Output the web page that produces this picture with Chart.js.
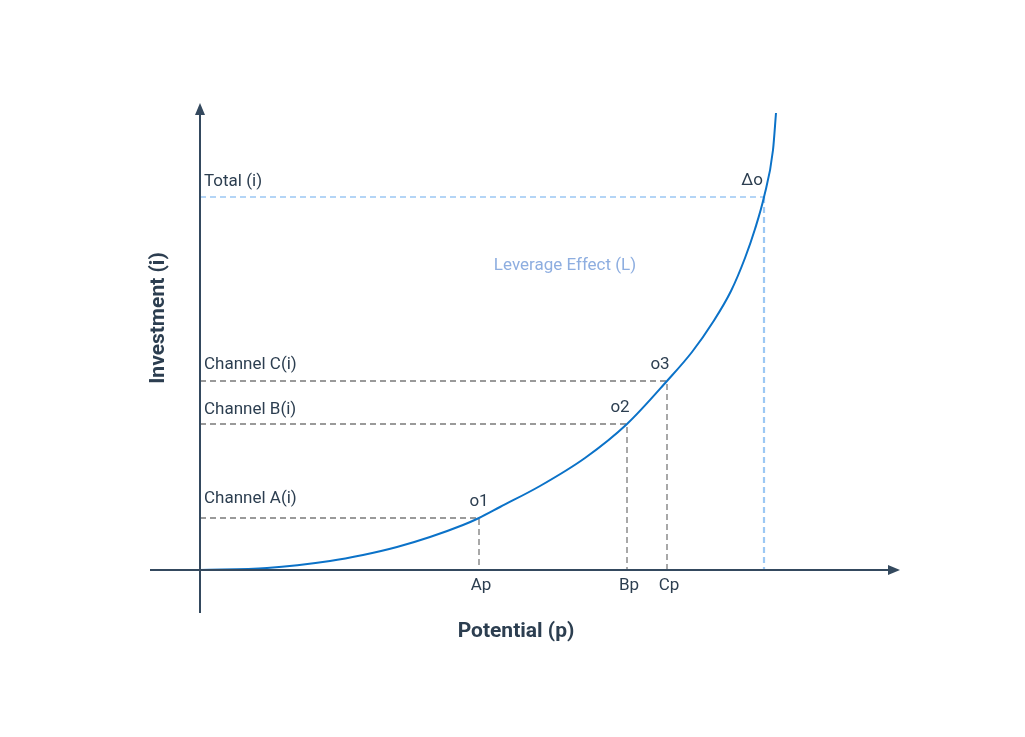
<!DOCTYPE html>
<html>
<head>
<meta charset="utf-8">
<script src="https://cdn.jsdelivr.net/npm/chart.js@4.4.1/dist/chart.umd.min.js"></script>
<style>
  body { margin: 0; background: #fff; }
  #wrap { width: 1025px; height: 737px; }
</style>
</head>
<body>
<div id="wrap"><canvas id="chart" width="1025" height="737"></canvas></div>
<script>
// curve: potential (p) vs investment (i)
const curveP = [0, 67, 130, 163, 197, 230, 263, 279, 300, 340, 385, 427, 467, 492, 513, 531, 545, 555, 564, 573, 576];
const curveI = [0, 2, 9, 15, 23, 33, 45, 52, 63, 84, 112, 146, 189, 218, 248, 279, 312, 341, 373, 420, 457];

// marked points on the curve
const pointNames = ['o1', 'o2', 'o3', 'Δo'];
const pointP = [279, 427, 467, 564];
const pointI = [52, 146, 189, 373];
const channelLabels = ['Channel A(i)', 'Channel B(i)', 'Channel C(i)', 'Total (i)'];
const potentialLabels = ['Ap', 'Bp', 'Cp'];

const axisP = [-50, 700];
const axisI = [-43, 467];

const textColor = '#2c3e50';
const font = '17px Roboto, "Noto Sans", sans-serif';

// guide lines: from the y axis to the point, then down to the x axis
const guideSets = pointNames.map((name, k) => {
  const isTotal = k === pointNames.length - 1;
  return {
    label: name,
    data: [{ x: 0, y: pointI[k] }, { x: pointP[k], y: pointI[k] }, { x: pointP[k], y: 0 }],
    borderColor: isTotal ? '#9cc8f4' : '#7a7a7a',
    borderWidth: 1.3,
    borderDash: [6, 4],
    pointRadius: 0,
    tension: 0,
    segment: isTotal ? { borderWidth: ctx => ctx.p0DataIndex === 1 ? 2.2 : 1.3 } : undefined,
  };
});

const axesAndText = {
  id: 'axesAndText',
  afterDatasetsDraw(chart) {
    const { ctx, scales: { x, y } } = chart;
    const x0 = x.getPixelForValue(0);
    const y0 = y.getPixelForValue(0);
    ctx.save();
    ctx.strokeStyle = '#34495e';
    ctx.fillStyle = '#34495e';
    ctx.lineWidth = 2;

    // x axis with arrow
    const xEnd = x.getPixelForValue(axisP[1]);
    ctx.beginPath();
    ctx.moveTo(x.getPixelForValue(axisP[0]), y0);
    ctx.lineTo(xEnd - 8, y0);
    ctx.stroke();
    ctx.beginPath();
    ctx.moveTo(xEnd, y0);
    ctx.lineTo(xEnd - 12, y0 - 5);
    ctx.lineTo(xEnd - 12, y0 + 5);
    ctx.closePath();
    ctx.fill();

    // y axis with arrow
    const yTop = y.getPixelForValue(axisI[1]);
    ctx.beginPath();
    ctx.moveTo(x0, y.getPixelForValue(axisI[0]));
    ctx.lineTo(x0, yTop + 8);
    ctx.stroke();
    ctx.beginPath();
    ctx.moveTo(x0, yTop);
    ctx.lineTo(x0 - 5, yTop + 12);
    ctx.lineTo(x0 + 5, yTop + 12);
    ctx.closePath();
    ctx.fill();

    // labels
    ctx.fillStyle = textColor;
    ctx.font = font;
    ctx.textBaseline = 'middle';
    const channelOffsets = [19, 14, 16, 15];
    channelLabels.forEach((t, k) => {
      ctx.textAlign = 'left';
      ctx.fillText(t, x0 + 4, y.getPixelForValue(pointI[k]) - channelOffsets[k]);
    });
    pointNames.forEach((t, k) => {
      const px = x.getPixelForValue(pointP[k]);
      const py = y.getPixelForValue(pointI[k]);
      ctx.textAlign = 'center';
      ctx.fillText(t, px - (k === 0 ? 0 : k === 3 ? 12 : 7), py - 16);
    });
    potentialLabels.forEach((t, k) => {
      ctx.textAlign = 'center';
      ctx.fillText(t, x.getPixelForValue(pointP[k]) + 2, y0 + 16);
    });

    ctx.fillStyle = '#8eaee0';
    ctx.textAlign = 'center';
    ctx.fillText('Leverage Effect (L)', 565, 266);

    ctx.fillStyle = textColor;
    ctx.font = 'bold 21px Roboto, "Noto Sans", sans-serif';
    ctx.fillText('Potential (p)', 516, 632);
    ctx.translate(159, 318);
    ctx.rotate(-Math.PI / 2);
    ctx.fillText('Investment (i)', 0, 0);
    ctx.restore();
  }
};

new Chart(document.getElementById('chart'), {
  type: 'scatter',
  plugins: [axesAndText],
  data: {
    datasets: [
      {
        label: 'curve',
        data: curveP.map((p, k) => ({ x: p, y: curveI[k] })),
        borderColor: '#0b72c8',
        borderWidth: 2,
        pointRadius: 0,
        showLine: true,
        cubicInterpolationMode: 'monotone',
      },
      ...guideSets.map(d => ({ ...d, showLine: true })),
    ],
  },
  options: {
    responsive: false,
    animation: false,
    layout: { padding: { left: 150, right: 125, top: 100, bottom: 124 } },
    plugins: { legend: { display: false }, tooltip: { enabled: false } },
    scales: {
      x: { type: 'linear', min: axisP[0], max: axisP[1], display: false },
      y: { type: 'linear', min: axisI[0], max: axisI[1] + 3, display: false },
    },
  },
});
</script>
</body>
</html>
